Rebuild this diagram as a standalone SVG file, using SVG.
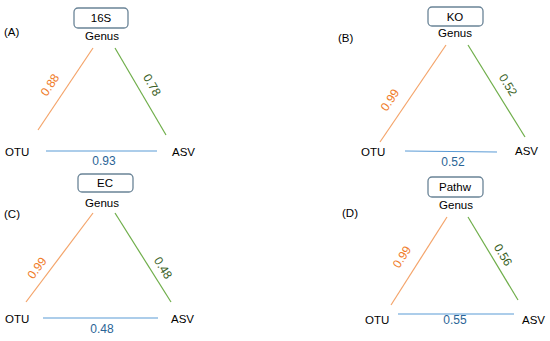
<svg xmlns="http://www.w3.org/2000/svg" width="550" height="341" viewBox="0 0 550 341">
<style>
text{font-family:"Liberation Sans",Arial,sans-serif;font-size:11.5px;fill:#000}
.mid{text-anchor:middle}
.num{font-size:12px}
.box{fill:#fff;stroke:#6a8497;stroke-width:1.3}
.or{stroke:#f4a46a;stroke-width:1.2}
.gr{stroke:#6fae4a;stroke-width:1.2}
.bl{stroke:#5b9bd5;stroke-width:1.2}
.ot{fill:#f07c2a}
.gt{fill:#385e24}
.bt{fill:#2a6496}
</style>
<rect width="550" height="341" fill="#fff"/>
<g id="connectors">
<line class="or" x1="93" y1="48" x2="38" y2="130"/>
<line class="gr" x1="115" y1="48" x2="166" y2="135"/>
<line class="bl" x1="46" y1="151" x2="157" y2="151"/>
<line class="or" x1="446" y1="45" x2="380" y2="142"/>
<line class="gr" x1="468" y1="45" x2="525" y2="137"/>
<line class="bl" x1="405" y1="151" x2="497" y2="152"/>
<line class="or" x1="93" y1="213" x2="26" y2="302"/>
<line class="gr" x1="115" y1="213" x2="171" y2="302"/>
<line class="bl" x1="43" y1="318" x2="158" y2="318"/>
<line class="or" x1="447" y1="217" x2="391" y2="305"/>
<line class="gr" x1="468" y1="217" x2="518" y2="300"/>
<line class="bl" x1="398" y1="314" x2="514" y2="314"/>
</g>
<g id="panelA">
<text x="4" y="36">(A)</text>
<rect class="box" x="74" y="8" width="54" height="20" rx="4"/>
<text class="mid" x="101" y="22">16S</text>
<text class="mid" x="102" y="40">Genus</text>
<text x="5" y="156">OTU</text>
<text x="172" y="156">ASV</text>
<text class="mid num ot" transform="translate(50,85) rotate(-56)" y="4">0.88</text>
<text class="mid num gt" transform="translate(152,85) rotate(60)" y="4">0.78</text>
<text class="mid num bt" x="104" y="165">0.93</text>
</g>
<g id="panelB">
<text x="338" y="42">(B)</text>
<rect class="box" x="428" y="7" width="55" height="19" rx="4"/>
<text class="mid" x="455" y="21">KO</text>
<text class="mid" x="455" y="37">Genus</text>
<text x="361" y="156">OTU</text>
<text x="515" y="155">ASV</text>
<text class="mid num ot" transform="translate(390,100) rotate(-56)" y="4">0.99</text>
<text class="mid num gt" transform="translate(508,85) rotate(58)" y="4">0.52</text>
<text class="mid num bt" x="453" y="166">0.52</text>
</g>
<g id="panelC">
<text x="4" y="218">(C)</text>
<rect class="box" x="78" y="174" width="55" height="18" rx="4"/>
<text class="mid" x="105" y="187">EC</text>
<text class="mid" x="102" y="207">Genus</text>
<text x="5" y="323">OTU</text>
<text x="171" y="323">ASV</text>
<text class="mid num ot" transform="translate(37,268) rotate(-53)" y="4">0.99</text>
<text class="mid num gt" transform="translate(163,268) rotate(58)" y="4">0.48</text>
<text class="mid num bt" x="102" y="333">0.48</text>
</g>
<g id="panelD">
<text x="342" y="217">(D)</text>
<rect class="box" x="428" y="177" width="55" height="20" rx="4"/>
<text class="mid" x="455" y="191">Pathw</text>
<text class="mid" x="456" y="209">Genus</text>
<text x="365" y="324">OTU</text>
<text x="522" y="324">ASV</text>
<text class="mid num ot" transform="translate(402,257) rotate(-57)" y="4">0.99</text>
<text class="mid num gt" transform="translate(503,255) rotate(59)" y="4">0.56</text>
<text class="mid num bt" x="455" y="324">0.55</text>
</g>
</svg>
